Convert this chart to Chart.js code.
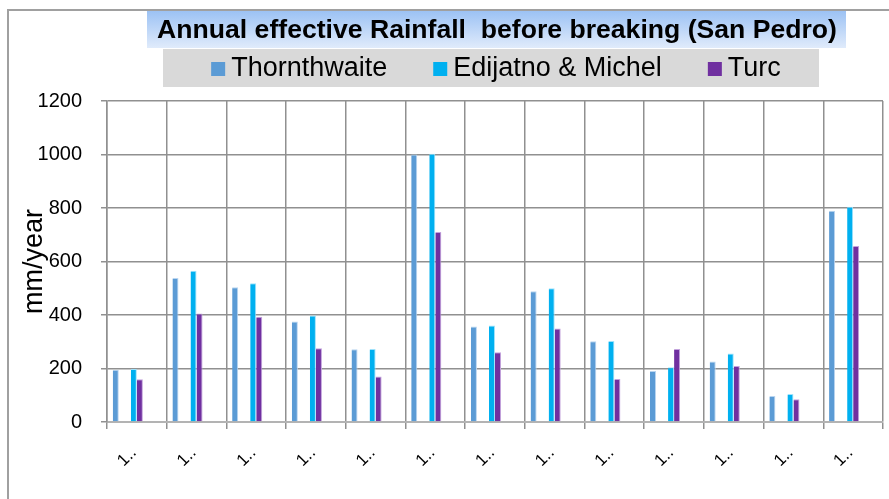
<!DOCTYPE html>
<html>
<head>
<meta charset="utf-8">
<script src="https://cdn.jsdelivr.net/npm/chart.js@4.4.1/dist/chart.umd.min.js"></script>
<style>
  html, body { margin: 0; padding: 0; background: #fff; }
  #wrap { width: 889px; height: 499px; }
</style>
</head>
<body>
<div id="wrap"><canvas id="myChart" width="889" height="499"></canvas></div>
<script>
// data
var categories = ['1..', '1..', '1..', '1..', '1..', '1..', '1..', '1..', '1..', '1..', '1..', '1..', '1..'];
var thornthwaite = [195, 538, 504, 376, 272, 1000, 357, 489, 302, 191, 226, 97, 790];
var edijatno = [198, 565, 519, 398, 273, 1003, 361, 500, 303, 205, 256, 105, 805];
var turc = [160, 406, 393, 276, 170, 710, 261, 350, 161, 273, 209, 85, 658];
var yMin = 0, yMax = 1200, yStep = 200;

var chartTitle = 'Annual effective Rainfall  before breaking (San Pedro)';
var yTitle = 'mm/year';
var FONT = "'Liberation Sans', Arial, sans-serif";

function series(label, data, color, edge) {
  return {
    label: label, data: data, backgroundColor: color,
    borderColor: edge, borderWidth: {top: 1, right: 1, left: 0, bottom: 0},
    borderSkipped: 'bottom'
  };
}
function blank() { return { label: '', data: [], backgroundColor: 'rgba(0,0,0,0)' }; }

// excel leaves empty slots in each group, keep them as blank series
var datasets = [
  series('Thornthwaite', thornthwaite, '#5b9bd5', '#b9d5f0'),
  blank(), blank(),
  series('Edijatno & Michel', edijatno, '#00b0f0', '#9fe2fb'),
  series('Turc', turc, '#7030a0', '#c3a3dc'),
  blank(), blank(), blank()
];

// frame, title box and legend box like the excel sheet
var decor = {
  id: 'decor',
  beforeDraw: function(chart) {
    var ctx = chart.ctx;
    ctx.save();
    ctx.fillStyle = '#fff';
    ctx.fillRect(0, 0, chart.width, chart.height);
    ctx.strokeStyle = '#a0a0a0';
    ctx.lineWidth = 2;
    ctx.beginPath();
    ctx.moveTo(8, chart.height);
    ctx.lineTo(8, 10);
    ctx.lineTo(chart.width, 10);
    ctx.stroke();
    ctx.restore();
  },
  afterDraw: function(chart) {
    var ctx = chart.ctx;
    ctx.save();
    // title
    var g = ctx.createLinearGradient(0, 11, 0, 48);
    g.addColorStop(0, '#9cc2f4');
    g.addColorStop(1, '#e0ebfb');
    ctx.fillStyle = g;
    ctx.fillRect(147, 11, 699, 37);
    ctx.fillStyle = '#000';
    ctx.font = 'bold 26.6px ' + FONT;
    ctx.textAlign = 'center';
    ctx.textBaseline = 'middle';
    ctx.fillText(chartTitle, 497, 31);

    // legend
    ctx.fillStyle = '#d9d9d9';
    ctx.fillRect(163, 49, 656, 38);
    ctx.font = '27px ' + FONT;
    ctx.textAlign = 'left';
    var items = chart.data.datasets.filter(function(d) { return d.label; });
    var box = 14, gap = 6, space = 46;
    var total = 0;
    items.forEach(function(d, i) {
      total += box + gap + ctx.measureText(d.label).width + (i ? space : 0);
    });
    var x = 496 - total / 2;
    items.forEach(function(d) {
      ctx.fillStyle = d.backgroundColor;
      ctx.fillRect(x, 62, box, box);
      ctx.fillStyle = '#000';
      ctx.fillText(d.label, x + box + gap, 69);
      x += box + gap + ctx.measureText(d.label).width + space;
    });
    ctx.restore();
  }
};

var config = {
  type: 'bar',
  data: { labels: categories, datasets: datasets },
  options: {
    responsive: false,
    animation: false,
    layout: { padding: { top: 101, left: 10, right: 6, bottom: 0 } },
    datasets: { bar: { categoryPercentage: 0.807, barPercentage: 1 } },
    plugins: {
      legend: { display: false },
      title: { display: false },
      tooltip: { enabled: false }
    },
    scales: {
      x: {
        grid: { color: '#909090', lineWidth: 1.5, tickLength: 7, offset: true },
        border: { color: '#b3b3b3', width: 2 },
        ticks: {
          color: '#000', font: { family: FONT, size: 17 },
          minRotation: 45, maxRotation: 45, autoSkip: false,
          padding: 14, labelOffset: -3
        },
        afterFit: function(s) { s.height = 77; }
      },
      y: {
        min: yMin, max: yMax,
        grid: { color: '#909090', lineWidth: 1.5, tickLength: 6 },
        border: { color: '#909090', width: 1.5 },
        ticks: {
          stepSize: yStep, color: '#000', font: { family: FONT, size: 20 }, padding: 19,
          callback: function(v) { return String(v); }
        },
        title: { display: true, text: yTitle, color: '#000', font: { family: FONT, size: 27 }, padding: { top: 8, bottom: 0 } },
        afterFit: function(s) { s.width = 97; }
      }
    }
  },
  plugins: [decor]
};

var chartInstance = new Chart(document.getElementById('myChart'), config);
</script>
</body>
</html>
